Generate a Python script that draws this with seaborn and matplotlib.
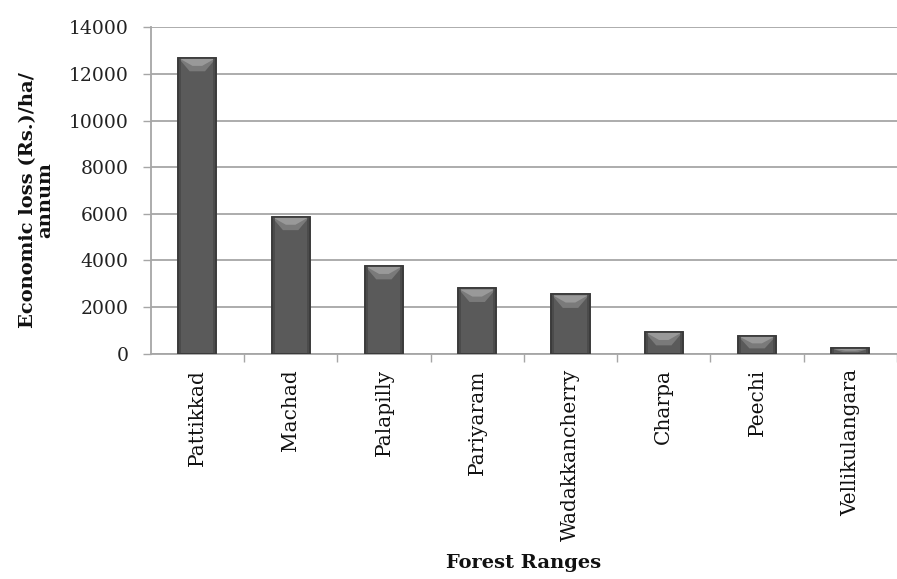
import numpy as np
import pandas as pd
import matplotlib
matplotlib.use("Agg")
import matplotlib.pyplot as plt
from matplotlib.patches import Polygon
from matplotlib.ticker import FixedLocator
import seaborn as sns

ranges = ["Pattikkad", "Machad", "Palapilly", "Pariyaram",
          "Wadakkancherry", "Charpa", "Peechi", "Vellikulangara"]
loss = [12690, 5880, 3770, 2800, 2545, 940, 770, 230]

y_ticks = [0, 2000, 4000, 6000, 8000, 10000, 12000, 14000]

df = pd.DataFrame({"range": ranges, "loss": loss})

sns.set_theme(style="white")
plt.rcParams["font.family"] = ["DejaVu Serif"]

fig = plt.figure(figsize=(8.97, 5.79), dpi=100)
ax = fig.add_axes([0.168, 0.389, 0.832, 0.564])

sns.barplot(data=df, x="range", y="loss", ax=ax, width=0.41,
            color="#5a5a5a", saturation=1, edgecolor="#3a3a3a",
            linewidth=1.2, zorder=3)

# bevelled top face and side shading on each bar
for p in list(ax.patches):
    x0, w, h = p.get_x(), p.get_width(), p.get_height()
    bh = min(580, h * 0.7)
    inset = w * 0.3
    top = Polygon([(x0, h), (x0 + w, h), (x0 + w - inset, h - bh),
                   (x0 + inset, h - bh)], closed=True,
                  facecolor="#7a7a7a", edgecolor="none", zorder=4)
    ax.add_patch(top)
    top_hi = Polygon([(x0 + 0.05 * w, h - bh * 0.08), (x0 + 0.95 * w, h - bh * 0.08),
                      (x0 + w - inset * 1.25, h - bh * 0.6),
                      (x0 + inset * 1.25, h - bh * 0.6)], closed=True,
                     facecolor="#a4a4a4", edgecolor="none", zorder=4, alpha=0.75)
    ax.add_patch(top_hi)
    for sx in (x0, x0 + w - w * 0.08):
        ax.add_patch(plt.Rectangle((sx, 0), w * 0.08, h, facecolor="#454545",
                                   edgecolor="none", zorder=4, alpha=0.7))
    ax.add_patch(plt.Rectangle((x0, 0), w, h, facecolor="none",
                               edgecolor="#3a3a3a", linewidth=1.2, zorder=5))

ax.set_xlim(-0.5, len(ranges) - 0.5)
ax.set_ylim(0, 14000)
ax.set_yticks(y_ticks)
ax.set_yticklabels([str(v) for v in y_ticks], fontsize=13.5, color="#222222")
ax.yaxis.grid(True, color="#a6a6a6", linewidth=1.3, zorder=0)
ax.xaxis.grid(False)

ax.set_xticks(range(len(ranges)))
ax.set_xticklabels(ranges, rotation=90, fontsize=14.5, color="#111111")
ax.tick_params(axis="x", which="major", length=0, pad=11)
ax.xaxis.set_minor_locator(FixedLocator(np.arange(0.5, len(ranges), 1.0)))
ax.tick_params(axis="x", which="minor", length=6, width=1, color="#a6a6a6",
               direction="out", bottom=True)
ax.tick_params(axis="y", length=6, width=1, color="#a6a6a6", direction="out",
               left=True, pad=10)

for side in ("top", "right"):
    ax.spines[side].set_visible(False)
for side in ("left", "bottom"):
    ax.spines[side].set_color("#a6a6a6")
    ax.spines[side].set_linewidth(1.3)

ax.set_xlabel("Forest Ranges", fontsize=14, fontweight="bold", labelpad=9,
              color="#111111")
ax.set_ylabel("Economic loss (Rs.)/ha/\nannum", fontsize=14, fontweight="bold",
              labelpad=10, color="#111111", linespacing=1.0)
ax.yaxis.label.set_y(0.47)

fig.savefig("out.png", dpi=100, facecolor="white")
